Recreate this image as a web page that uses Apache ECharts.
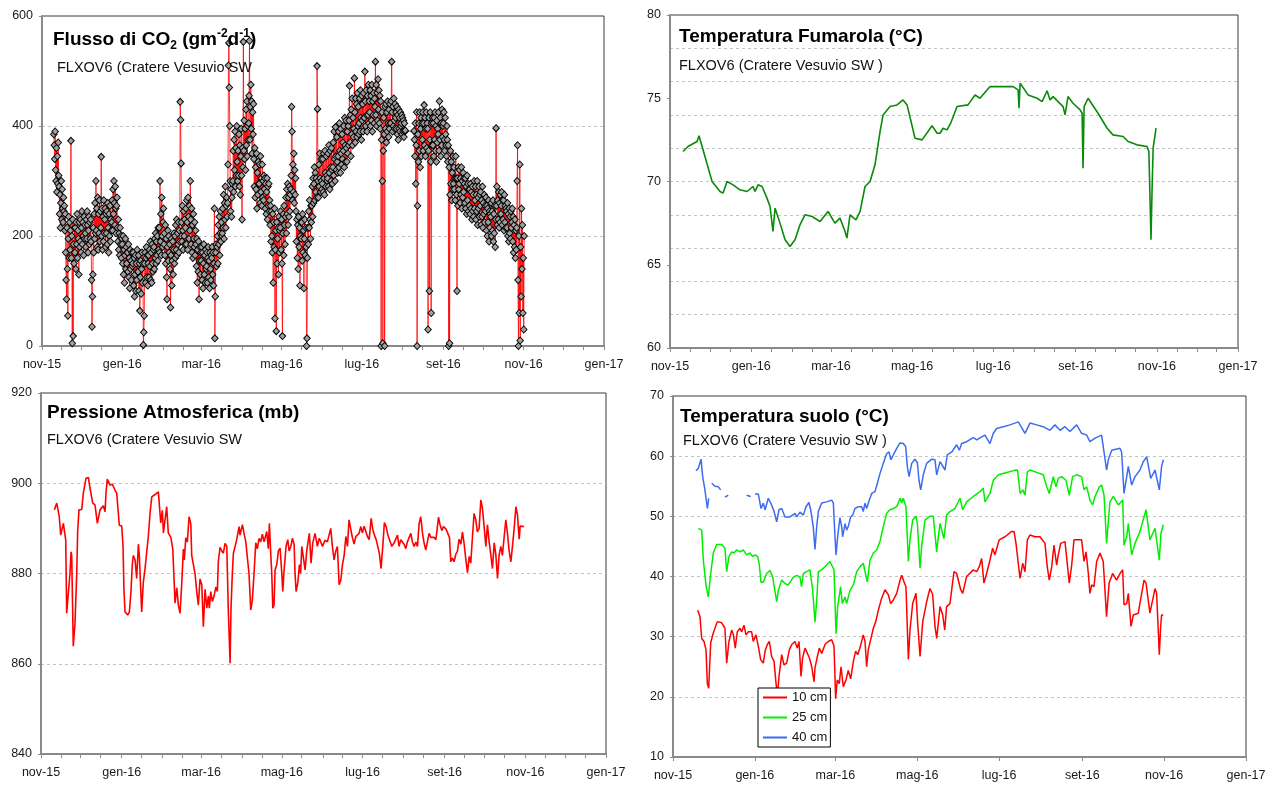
<!DOCTYPE html>
<html><head><meta charset="utf-8">
<script src="https://cdn.jsdelivr.net/npm/echarts@6/dist/echarts.min.js"></script>
<style>html,body{margin:0;padding:0;background:#fff}#c{width:1276px;height:787px}</style>
</head><body><div id="c"></div>
<script>
// ---------- axis tick labels ----------
const xTickLabels = ['nov-15','gen-16','mar-16','mag-16','lug-16','set-16','nov-16','gen-17'];
const xTickDates  = ['2015-11-01','2016-01-01','2016-03-01','2016-05-01','2016-07-01','2016-09-01','2016-11-01','2017-01-01'];

// ---------- CO2 flux (g m-2 d-1), one reading every 8 h from 2015-11-10 ----------
const co2Start = '2015-11-10';
const co2StepHours = 8;
const co2Values = [
385,365,340,390,320,300,360,280,345,295,370,310,
290,240,275,215,260,300,230,285,250,225,270,245,
255,210,240,170,120,85,215,140,55,195,235,160,
225,175,210,373,160,200,5,230,18,185,150,215,
170,215,140,225,185,240,160,210,195,130,225,180,
190,230,170,215,245,185,225,200,165,235,195,220,
205,180,230,195,245,220,170,210,235,185,225,195,
230,190,120,35,90,130,215,170,240,195,260,205,
300,210,250,180,270,175,240,205,265,190,245,215,
344,200,250,175,235,190,265,205,230,250,180,240,
205,245,185,260,215,170,240,200,255,190,230,210,
225,265,210,285,240,300,260,220,290,250,205,255,
270,215,190,230,175,205,165,215,185,200,160,195,
185,150,200,130,175,115,165,195,140,180,150,170,
170,135,185,125,160,105,175,140,155,120,170,145,
150,170,110,160,90,130,165,100,150,120,175,135,
135,165,100,150,64,125,155,95,140,170,115,150,
2,25,55,150,170,115,160,180,125,165,110,150,
165,125,175,145,190,120,170,115,185,150,135,175,
180,140,195,160,205,150,190,165,200,155,215,175,
215,170,300,190,240,165,270,200,180,225,250,185,
205,165,220,150,195,125,85,180,210,155,200,170,
185,140,70,165,195,110,155,190,130,175,205,150,
200,160,220,175,230,165,205,185,225,170,210,190,
444,411,332,225,190,255,210,175,245,200,230,185,
215,250,185,265,225,175,270,235,195,255,210,300,
230,185,250,170,220,160,240,195,180,225,165,210,
185,145,195,115,175,135,190,85,155,180,130,170,
155,180,120,170,105,150,185,130,165,115,175,140,
145,170,115,160,180,125,155,105,170,140,120,165,
160,180,130,170,110,150,250,14,90,170,185,145,
180,200,150,220,185,235,165,205,245,190,225,200,
205,250,215,275,195,260,230,290,215,255,270,235,
260,330,510,551,470,400,300,245,285,235,270,295,
300,355,280,375,320,390,290,360,310,400,335,300,
355,310,385,290,365,275,345,395,310,230,360,325,
553,355,410,340,395,320,430,365,445,345,400,375,
405,455,555,375,435,475,395,445,350,425,385,440,
340,290,360,270,325,285,350,250,315,275,335,295,
295,330,260,345,280,305,255,330,270,300,265,310,
285,305,250,295,240,280,305,230,290,255,295,245,
265,220,255,190,245,200,170,240,115,225,180,250,
50,175,210,27,225,150,195,215,130,235,170,210,
215,245,175,230,150,18,205,240,165,255,220,185,
235,270,205,285,240,295,220,270,235,290,245,275,
285,310,435,390,265,330,280,350,260,320,275,305,
245,190,230,160,220,140,235,180,215,110,200,225,
195,225,155,240,170,210,105,195,230,165,215,180,
0,14,160,215,185,245,215,265,230,195,255,225,
255,290,235,305,260,295,325,265,315,280,305,270,
509,431,300,270,330,290,350,305,280,340,300,285,
295,340,280,350,305,275,355,315,290,345,310,300,
305,350,290,365,315,285,355,325,300,360,320,295,
325,370,310,390,340,300,398,345,320,380,335,315,
345,390,325,405,355,315,395,350,330,385,340,370,
355,400,325,415,365,335,410,360,335,390,350,400,
365,410,473,370,420,345,430,385,450,365,415,380,
395,487,425,370,450,390,440,380,460,400,435,385,
405,450,390,465,415,375,455,410,440,390,460,415,
415,499,445,400,465,420,390,455,420,475,405,445,
425,465,400,455,410,475,390,445,420,460,405,450,
435,517,420,475,400,460,410,485,430,465,405,455,
395,445,0,375,425,300,5,355,415,385,0,435,
395,440,370,425,390,445,405,380,430,395,440,405,
405,445,517,425,390,435,400,450,410,395,440,415,
425,395,435,385,420,375,430,395,415,390,425,400,
405,420,385,415,390,410,380,405,390,392,null,null,
null,null,null,null,null,null,null,null,null,null,null,null,
null,null,null,null,null,391,375,345,405,295,365,425,
0,255,385,335,405,355,425,325,395,415,345,405,
375,425,355,405,438,365,415,345,395,425,360,405,
395,30,355,415,100,375,425,335,60,405,365,415,
365,405,345,415,375,425,355,400,335,410,370,395,
385,425,355,445,375,415,345,405,365,430,380,400,
405,425,375,355,415,385,365,345,400,375,335,365,
0,325,5,275,355,295,335,265,315,285,345,295,
325,285,305,265,345,305,275,100,305,255,325,285,
295,320,260,305,275,325,250,300,270,315,280,305,
295,260,305,250,290,240,310,265,295,245,285,255,
285,240,295,250,280,230,290,245,275,235,300,250,
265,290,230,275,245,300,220,270,250,290,235,275,
255,280,220,265,235,290,215,260,240,275,225,255,
245,270,210,255,200,250,225,265,190,245,215,240,
235,260,200,245,210,265,190,240,205,255,180,230,
396,255,290,220,265,230,280,215,260,225,275,240,
255,280,220,265,230,265,210,275,225,255,215,250,
245,215,260,200,240,190,250,205,235,195,245,215,
225,250,190,235,170,220,180,230,160,210,175,215,
300,365,120,0,200,60,330,10,180,90,250,140,
220,60,160,30,200
];

// ---------- Fumarole temperature (°C); days since 2015-11-01 ----------
const fumDays = [9.8,13.5,20.3,21.8,26.3,31.6,37.6,39.8,42.9,47.4,52.6,57.9,62.4,63.9,66.2,69.2,72.9,75.2,77.4,79,82.7,86.5,90.2,94,97.7,101.5,106.8,112.8,118.8,124,127.8,131.6,133,135.3,139.8,142.9,146.6,150.4,154.1,157.9,160.2,165.4,170.7,175.2,178.2,184.2,189.5,197,200.8,203,205.3,208.3,211,215.8,224,229.3,233,240.6,248,257.9,261.7,262.4,263.2,269.2,276,279.7,283.5,285.7,288,295.5,297,299.2,303,308.3,309.8,310.5,311.3,314.3,321.8,328.6,333,340.6,344.4,351,358.6,360,361.6,362.4,363.2,365.4];
const fumVals = [71.8,72.1,72.4,72.75,71.5,70.0,69.4,69.3,70.0,69.8,69.5,69.4,69.7,69.4,69.8,69.7,69.0,68.5,67.0,68.4,67.5,66.5,66.1,66.5,67.4,68.0,67.9,67.6,68.2,67.5,67.8,67.0,66.6,68.0,67.7,68.2,69.7,70.0,71.0,73.0,74.0,74.5,74.6,74.9,74.6,72.6,72.5,73.35,72.9,72.9,73.2,73.1,73.5,74.5,74.6,75.2,75.0,75.7,75.7,75.7,75.5,74.4,75.9,75.2,75.0,74.8,75.45,74.9,75.1,74.5,74.0,75.1,74.7,74.3,74.1,70.8,74.5,75.0,74.1,73.2,72.8,72.7,72.4,72.2,72.1,71.8,66.5,69.5,72.0,73.2];

// ---------- Atmospheric pressure (mb); days since 2015-11-01 ----------
const pressDays = [10.1,11.9,13.8,14.9,16.9,17.6,18.7,19.4,20.6,21.9,22.7,23.2,24.4,25.7,27.0,27.7,28.7,30.8,32.0,34.0,35.8,37.0,39.1,40.8,42.6,44.6,47.1,48.4,49.1,50.1,52.2,53.9,55.9,57.2,59.2,61.0,62.0,62.7,63.5,65.5,66.8,68.0,69.0,69.8,71.1,72.3,73.6,74.3,76.1,77.3,78.6,81.1,82.4,83.7,86.2,87.5,88.7,90.5,91.7,92.5,95.0,96.2,98.1,99.6,101.3,102.6,103.8,105.1,106.4,107.6,108.3,109.4,110.6,111.9,113.2,113.9,116.4,117.7,118.9,120.2,121.5,122.7,124.0,125.3,126.5,127.2,128.3,129.5,130.8,132.1,133.3,134.0,135.3,136.6,137.8,139.1,140.4,141.6,142.9,143.6,144.6,145.4,146.7,147.9,149.7,150.4,152.2,153.7,154.8,156.0,157.2,158.5,159.7,161.0,162.3,163.5,164.8,166.1,167.3,168.6,169.9,170.6,171.8,172.6,173.7,174.4,175.2,176.1,176.9,178.2,179.4,180.7,182.0,182.7,183.7,185.2,186.5,187.5,188.8,190.0,191.3,192.0,192.8,194.1,195.3,196.2,197.1,198.3,199.6,200.9,202.8,204.1,205.4,207.1,208.9,210.2,211.5,212.7,214.7,216.4,219.0,220.2,221.5,222.8,224.0,225.3,226.6,227.8,229.1,230.4,231.6,232.8,234.1,235.3,236.6,237.9,239.1,240.4,241.7,242.9,244.2,245.5,246.7,248.0,249.5,250.8,252.0,253.3,254.5,255.7,257.0,258.3,259.5,260.8,262.1,263.3,265.1,266.9,268.2,269.4,270.6,271.9,273.1,274.4,275.7,276.9,278.2,279.5,280.7,282.0,283.3,284.5,285.8,287.0,288.3,289.5,290.8,292.0,293.3,294.6,295.8,297.1,298.4,299.6,300.4,301.6,302.9,304.1,306.0,307.5,308.7,309.7,310.9,312.2,313.5,314.7,316.0,317.3,318.5,319.8,321.1,322.3,323.6,324.8,326.1,327.3,328.6,329.8,331.1,332.4,333.6,334.9,336.2,337.4,338.7,340.0,341.2,342.5,343.7,345.0,346.2,347.5,348.7,350.0,351.3,352.5,353.8,355.1,356.3,357.6,358.9,360.1,361.4,362.1,363.4,365.1];
const pressVals = [894.1,895.6,892.6,888.5,891.1,891.5,887.4,871.2,871.0,880.0,884.8,884.0,863.9,869.0,880.0,889.3,894.1,894.2,897.8,901.1,901.3,899.0,895.6,895.2,891.1,894.1,895.0,893.7,897.8,900.9,899.6,899.8,898.5,897.8,890.7,890.5,886.0,876.3,871.5,870.8,871.5,876.0,882.0,884.0,883.0,878.9,886.5,884.0,871.5,878.0,881.0,888.2,893.3,897.0,897.5,897.2,898.1,891.2,894.0,889.0,894.8,889.0,888.0,885.4,873.4,876.8,873.0,871.2,878.0,885.4,883.0,887.9,887.0,892.6,891.0,884.0,880.0,876.0,873.0,878.8,877.5,868.2,876.5,872.3,875.0,872.3,876.0,873.8,875.0,877.0,876.0,882.6,885.8,885.0,884.5,886.7,886.0,871.5,860.1,872.3,880.0,884.5,886.0,887.5,890.4,888.5,890.8,888.5,887.0,883.4,880.0,871.9,874.0,880.0,886.8,885.5,887.8,887.0,888.7,887.0,888.5,889.3,885.5,891.1,884.0,880.0,872.3,873.0,880.8,882.0,885.0,885.6,880.0,876.0,880.6,886.0,887.5,885.0,886.0,887.8,886.5,880.0,876.0,878.0,882.0,880.0,886.0,886.3,880.8,885.2,888.9,882.3,886.8,888.9,886.0,887.8,887.0,886.0,887.4,887.0,890.0,886.0,883.0,885.0,886.0,877.5,878.5,881.9,884.0,888.2,886.0,891.9,892.0,888.0,886.5,888.2,888.0,888.9,890.4,889.0,890.5,889.3,888.2,887.5,892.2,889.7,888.5,887.5,886.0,884.5,881.1,886.0,891.3,890.4,888.6,888.3,886.0,886.8,886.6,888.5,886.0,887.5,887.4,886.5,885.5,887.0,886.8,888.9,887.0,886.0,887.0,886.0,891.1,892.6,889.0,886.8,885.2,887.0,888.9,888.0,888.3,888.0,887.5,890.4,892.5,890.8,889.5,890.4,889.9,889.8,888.0,882.6,883.4,882.6,884.3,884.9,887.6,886.5,889.2,886.5,883.0,880.2,883.8,882.3,888.2,893.3,891.9,889.2,890.0,896.3,894.5,890.4,886.0,890.8,887.0,884.0,881.1,886.8,884.3,878.9,884.0,886.0,884.0,888.0,891.9,889.0,885.0,882.6,886.0,890.0,894.8,893.0,887.6,890.5,890.7,890.4];

// ---------- Soil temperature (°C); days since 2015-11-01 ----------
const soil10Days = [18.4,20.1,21.4,23.1,24.6,25.6,26.6,28.1,30.0,33.0,36.3,38.7,40.0,41.7,43.7,45.0,46.4,47.9,49.9,51.2,52.9,54.4,56.1,58.6,59.8,61.8,63.6,65.3,67.3,68.6,70.3,71.8,73.5,75.3,76.8,77.8,79.0,81.0,82.7,84.7,86.7,88.5,90.9,92.6,93.9,95.4,96.6,98.4,99.6,101.6,103.4,105.1,105.8,107.1,109.0,110.8,113.3,115.7,118.3,120.0,121.2,122.4,123.9,125.2,126.9,128.9,130.6,132.4,134.4,136.1,137.6,139.3,141.8,143.1,144.3,145.5,147.3,149.3,151.1,153.0,155.5,158.0,160.4,162.2,164.2,166.7,169.2,170.4,172.2,173.6,175.4,176.6,178.6,181.1,182.3,184.1,186.1,189.0,191.5,193.5,195.2,196.5,199.0,201.0,202.5,203.9,206.4,209.4,211.4,214.4,215.9,218.8,223.8,226.3,228.2,230.0,231.7,233.7,236.2,238.2,239.9,243.1,247.4,252.4,254.1,255.6,257.3,258.6,260.6,262.3,264.1,266.0,269.7,273.5,277.2,278.9,280.4,282.2,283.9,285.9,287.1,288.9,292.1,295.3,297.1,298.8,302.0,304.5,306.3,307.8,309.5,310.7,312.0,313.7,315.7,318.2,320.6,323.1,325.0,327.6,330.5,333.1,335.1,336.1,338.1,339.3,341.3,343.0,346.7,351.0,352.5,355.4,359.2,360.4,362.4,363.4,364.1,365.4];
const soil10Vals = [34.4,33.3,29.7,29.2,27.8,22.2,21.4,29.0,30.6,32.5,32.3,31.4,25.6,29.2,31.1,30.3,28.1,30.8,31.4,30.8,31.9,30.3,30.8,30.8,29.2,30.3,28.4,26.2,25.6,27.6,28.7,29.2,26.7,25.9,22.2,20.0,23.4,27.0,25.3,25.6,27.8,28.7,29.2,28.1,29.2,23.4,26.5,28.1,28.4,26.5,25.0,22.5,24.8,26.2,28.1,27.2,28.7,29.2,29.5,28.4,19.7,22.8,22.2,25.0,21.7,22.8,24.4,23.0,25.9,27.6,27.0,28.1,30.3,29.2,25.0,27.8,29.5,31.4,32.5,34.4,36.4,37.8,37.0,35.5,36.1,37.2,39.4,40.2,39.1,38.3,26.2,31.1,35.5,37.2,32.3,26.7,32.5,35.8,38.0,37.0,31.8,29.7,35.0,33.6,31.1,35.0,35.5,40.8,40.5,37.8,37.2,40.0,41.1,40.8,41.6,43.0,38.9,40.5,42.7,44.7,43.6,46.1,46.6,47.5,47.5,45.5,42.2,39.7,42.2,40.8,46.1,46.9,46.6,46.6,45.5,41.6,39.4,41.6,45.2,41.9,43.6,45.5,45.8,38.9,41.9,46.1,46.1,46.1,42.5,44.1,40.5,37.2,38.6,38.3,42.5,43.9,42.5,33.3,38.9,40.5,39.4,40.5,41.1,35.3,35.5,37.2,31.7,33.6,33.9,39.4,38.9,33.9,38.0,37.2,27.0,31.7,33.6,33.6];

const soil25Days = [18.9,21.4,22.6,24.6,26.3,28.1,30.1,32.5,36.3,38.7,40.0,41.7,43.7,45.4,47.4,49.9,52.4,54.9,57.4,59.4,61.1,63.1,64.3,65.6,67.3,69.8,72.3,74.3,77.3,78.5,81.0,83.5,85.9,89.7,92.2,94.6,95.8,97.1,99.6,102.1,104.1,105.8,107.1,108.3,110.8,114.5,117.0,118.3,120.0,121.5,122.7,124.9,126.2,128.2,129.4,131.9,134.4,136.9,139.3,141.8,143.1,144.8,146.8,149.3,151.8,154.2,156.7,159.2,161.7,164.2,166.7,169.2,170.4,171.6,173.6,175.4,176.6,178.6,181.1,182.1,184.1,185.3,187.8,191.5,194.0,196.5,197.7,199.0,201.9,203.9,206.4,210.1,213.9,215.9,218.8,223.8,228.8,231.2,232.5,236.2,238.7,242.5,248.7,253.7,256.7,258.7,260.7,262.3,264.1,266.0,271.0,275.9,278.5,280.4,283.4,285.4,287.1,289.6,292.8,295.3,297.8,300.8,304.5,306.3,308.3,310.7,312.7,314.5,317.7,319.4,321.2,323.1,325.6,328.1,331.9,335.1,336.1,338.1,339.3,341.8,344.3,348.0,352.5,355.4,359.2,360.4,362.4,363.6,365.4];
const soil25Vals = [48.0,47.7,42.7,38.5,36.6,40.5,44.0,45.3,45.3,44.7,40.8,43.3,44.1,43.9,44.4,44.1,44.4,43.6,43.9,43.3,43.6,43.3,42.0,39.0,39.1,40.5,41.0,39.9,35.8,37.7,39.4,38.8,38.6,39.9,40.2,39.9,38.3,40.5,40.8,41.1,37.7,32.4,36.0,40.8,41.1,41.9,42.5,42.2,41.1,30.5,34.9,38.3,35.5,36.6,35.5,37.7,38.6,40.8,41.6,42.2,40.8,39.1,42.7,43.9,44.4,45.8,48.3,50.5,51.1,51.3,51.6,53.0,52.2,53.0,51.6,42.5,46.1,49.4,50.0,48.8,41.4,45.0,49.4,50.0,50.0,44.1,46.6,48.8,46.3,50.2,50.8,51.3,53.0,51.1,52.4,53.3,54.1,54.7,52.4,53.8,56.0,56.9,57.3,57.6,57.7,53.8,54.4,53.5,57.4,57.7,57.3,56.9,54.9,53.8,56.6,54.9,56.3,56.6,56.0,53.5,56.6,56.9,56.6,54.4,54.9,52.7,51.9,53.3,54.9,55.2,53.5,45.5,52.4,53.3,51.9,52.7,45.2,46.6,48.8,43.6,45.5,47.5,51.1,46.1,48.0,48.3,42.7,47.2,48.6];

const soil40Days = [17.1,18.9,20.9,22.1,23.8,25.6,26.6,27.5,28.8,31.3,33.8,35.5,37.0,38.7,41.2,45.0,54.9,57.9,59.5,61.1,63.6,65.6,67.3,68.6,71.0,73.5,75.3,77.3,79.0,81.0,83.5,87.2,90.9,92.2,94.6,97.1,99.1,101.3,102.6,104.5,105.8,107.1,108.3,110.8,114.5,118.3,119.5,120.7,121.5,122.7,124.4,125.7,126.4,128.2,129.4,130.6,132.4,133.9,135.6,138.1,140.6,141.8,143.1,144.3,146.3,148.1,150.5,152.3,154.2,156.7,159.2,161.0,162.4,164.2,166.7,169.2,171.6,173.4,174.6,175.9,177.9,180.3,182.1,183.3,184.6,186.5,189.0,192.8,195.2,196.5,199.0,202.7,204.4,207.7,211.4,213.4,215.1,218.8,223.8,226.3,230.0,232.5,236.2,238.7,241.2,246.2,251.1,257.3,262.3,266.0,271.0,275.9,280.9,284.6,288.4,292.1,295.8,300.8,304.5,308.3,310.7,314.5,319.4,320.6,323.1,324.4,326.9,333.1,334.3,336.1,338.1,339.3,341.8,344.3,348.0,350.5,353.0,356.0,359.2,360.4,362.4,364.1,365.4];
const soil40Vals = [57.6,58.0,59.5,56.6,54.4,51.3,53.0,null,55.5,55.0,54.9,54.4,null,53.2,53.5,null,53.5,53.3,null,53.7,53.7,51.3,52.2,51.1,53.0,51.9,50.8,49.1,51.1,51.3,49.9,49.9,50.5,49.9,50.7,50.2,51.6,52.3,51.1,48.3,44.5,48.3,50.8,52.2,52.4,52.7,52.2,46.6,43.6,46.6,49.8,48.3,46.6,48.8,47.7,48.3,49.9,50.2,51.3,51.6,51.6,50.8,52.2,51.3,52.7,53.8,54.1,55.5,57.1,58.8,60.4,60.7,59.4,60.2,61.3,62.2,62.1,61.6,58.3,56.6,58.8,59.5,58.9,56.0,54.4,56.9,58.8,59.5,59.4,56.9,59.1,57.7,60.2,60.7,61.9,61.0,62.1,62.4,63.1,62.7,63.2,63.5,62.1,63.8,64.6,64.9,65.2,65.7,63.8,65.5,65.2,64.9,64.3,65.2,64.3,64.9,64.1,65.2,63.8,63.5,62.4,63.0,63.5,63.2,57.7,59.4,61.0,61.3,60.7,53.8,56.6,58.3,55.2,56.6,57.7,59.1,59.9,56.3,57.7,58.0,54.4,58.3,59.4];

// ---------- build ----------
const FONT = "'Liberation Sans', Arial, Helvetica, sans-serif";
const DAY = 86400000;
const BASE = Date.UTC(2015, 10, 1);
const XMAX = Date.UTC(2017, 0, 1);
const toTime = s => Date.parse(s + 'T00:00:00Z');
const xTickTimes = xTickDates.map(toTime);
const halfMonthTicks = [];
for (let y = 2015, m = 10; y < 2017 || (y === 2017 && m === 0); ) {
  halfMonthTicks.push(Date.UTC(y, m, 1));
  if (!(y === 2017 && m === 0)) halfMonthTicks.push(Date.UTC(y, m, 16));
  m++; if (m > 11) { m = 0; y++; }
}
const pts = (days, vals) => days.map((d, i) => [BASE + d * DAY, vals[i]]);
const co2T0 = toTime(co2Start);
const co2Data = co2Values.map((v, i) => [co2T0 + i * co2StepHours * 3600000, v]);

const grids = [
  {left: 42, top: 16, width: 562, height: 330},
  {left: 670, top: 15, width: 568, height: 333},
  {left: 41, top: 393, width: 565, height: 361},
  {left: 673, top: 396, width: 573, height: 361}
].map(g => Object.assign(g, {show: true, borderColor: '#3a3a3a', borderWidth: 1, backgroundColor: '#fff'}));

const axisGray = '#8a8a8a';
function xAx(gi, minor) {
  return {
    type: 'value', gridIndex: gi, min: BASE, max: XMAX, scale: true,
    axisLine: {show: true, lineStyle: {color: axisGray, width: 2}},
    axisTick: {show: true, inside: false, length: 4, customValues: minor ? halfMonthTicks : xTickTimes,
               lineStyle: {color: axisGray, width: 1}},
    axisLabel: {show: true, customValues: xTickTimes, margin: 12, fontFamily: FONT, fontSize: 12.5, color: '#1a1a1a',
                hideOverlap: false, showMinLabel: true, showMaxLabel: true,
                formatter: v => { const i = xTickTimes.indexOf(Number(v)); return i >= 0 ? xTickLabels[i] : ''; }},
    splitLine: {show: false}
  };
}
const dashed = {show: true, showMinLine: false, showMaxLine: false, lineStyle: {color: '#c4c4c4', type: [3, 3], width: 1}};
function yAx(gi, min, max, interval, split, hidden) {
  return {
    type: 'value', gridIndex: gi, min, max, interval,
    axisLine: {show: !hidden, lineStyle: {color: axisGray, width: 2}},
    axisTick: {show: !hidden, inside: false, length: 3, lineStyle: {color: axisGray}},
    axisLabel: {show: !hidden, margin: 9, fontFamily: FONT, fontSize: 12.5, color: '#1a1a1a'},
    splitLine: split ? dashed : {show: false}
  };
}

const titleRich = {
  b: {fontFamily: FONT, fontSize: 19, fontWeight: 'bold', color: '#000', lineHeight: 24},
  sub: {fontFamily: FONT, fontSize: 12, fontWeight: 'bold', color: '#000', lineHeight: 24, verticalAlign: 'bottom'},
  sup: {fontFamily: FONT, fontSize: 12, fontWeight: 'bold', color: '#000', lineHeight: 24, verticalAlign: 'top'}
};
const tTitle = (left, top, text) => ({left, top, padding: 0, text, textStyle: {fontFamily: FONT, fontSize: 19, fontWeight: 'bold', color: '#000', lineHeight: 24, rich: titleRich}});
const tSub = (left, top, text) => ({left, top, padding: 0, text, textStyle: {fontFamily: FONT, fontSize: 14.5, fontWeight: 'normal', color: '#111'}});

const option = {
  animation: false,
  backgroundColor: '#fff',
  title: [
    tTitle(53, 28, '{b|Flusso di CO}{sub|2}{b| (gm}{sup|-2}{b|d}{sup|-1}{b|)}'),
    tSub(57, 60, 'FLXOV6 (Cratere Vesuvio SW'),
    tTitle(679, 25, 'Temperatura Fumarola (°C)'),
    tSub(679, 58, 'FLXOV6 (Cratere Vesuvio SW )'),
    tTitle(47, 401, 'Pressione Atmosferica (mb)'),
    tSub(47, 432, 'FLXOV6 (Cratere Vesuvio SW'),
    tTitle(680, 405, 'Temperatura suolo (°C)'),
    tSub(683, 433, 'FLXOV6 (Cratere Vesuvio SW )')
  ],
  grid: grids,
  xAxis: [xAx(0, true), xAx(1, true), xAx(2, true), xAx(3, false)],
  yAxis: [
    yAx(0, 0, 600, 200, true),
    yAx(1, 60, 80, 5, false),
    yAx(1, 60, 80, 2, true, true),
    yAx(2, 840, 920, 20, true),
    yAx(3, 10, 70, 10, true)
  ],
  legend: {
    data: ['10 cm', '25 cm', '40 cm'], orient: 'vertical', left: 758, top: 688,
    icon: 'rect', itemWidth: 24, itemHeight: 2, itemGap: 5, itemTextGap: 4,
    padding: [2, 3, 2, 5], borderColor: '#000', borderWidth: 1, backgroundColor: '#fff',
    textStyle: {fontFamily: FONT, fontSize: 13, color: '#111', lineHeight: 15}
  },
  series: [
    {type: 'line', name: 'CO2', xAxisIndex: 0, yAxisIndex: 0, data: co2Data, connectNulls: true,
     symbol: 'diamond', symbolSize: [6.5, 7], showSymbol: true,
     itemStyle: {color: '#a0a0a0', borderColor: '#000', borderWidth: 1},
     lineStyle: {color: '#ff0000', width: 0.8}, z: 3},
    {type: 'line', name: 'Fumarola', xAxisIndex: 1, yAxisIndex: 1, data: pts(fumDays, fumVals),
     showSymbol: false, itemStyle: {color: '#0a8a0a'}, lineStyle: {color: '#0a8a0a', width: 1.6}},
    {type: 'line', name: 'Pressione', xAxisIndex: 2, yAxisIndex: 3, data: pts(pressDays, pressVals),
     showSymbol: false, itemStyle: {color: '#ff0000'}, lineStyle: {color: '#ff0000', width: 1.6}},
    {type: 'line', name: '10 cm', xAxisIndex: 3, yAxisIndex: 4, data: pts(soil10Days, soil10Vals),
     showSymbol: false, itemStyle: {color: '#ff0000'}, lineStyle: {color: '#ff0000', width: 1.5}},
    {type: 'line', name: '25 cm', xAxisIndex: 3, yAxisIndex: 4, data: pts(soil25Days, soil25Vals),
     showSymbol: false, itemStyle: {color: '#00ee00'}, lineStyle: {color: '#00ee00', width: 1.5}},
    {type: 'line', name: '40 cm', xAxisIndex: 3, yAxisIndex: 4, data: pts(soil40Days, soil40Vals),
     showSymbol: false, connectNulls: false, itemStyle: {color: '#3d6cf0'}, lineStyle: {color: '#3d6cf0', width: 1.5}}
  ]
};
const chart = echarts.init(document.getElementById('c'), null, {renderer: 'canvas'});
chart.setOption(option);
</script>
</body></html>
